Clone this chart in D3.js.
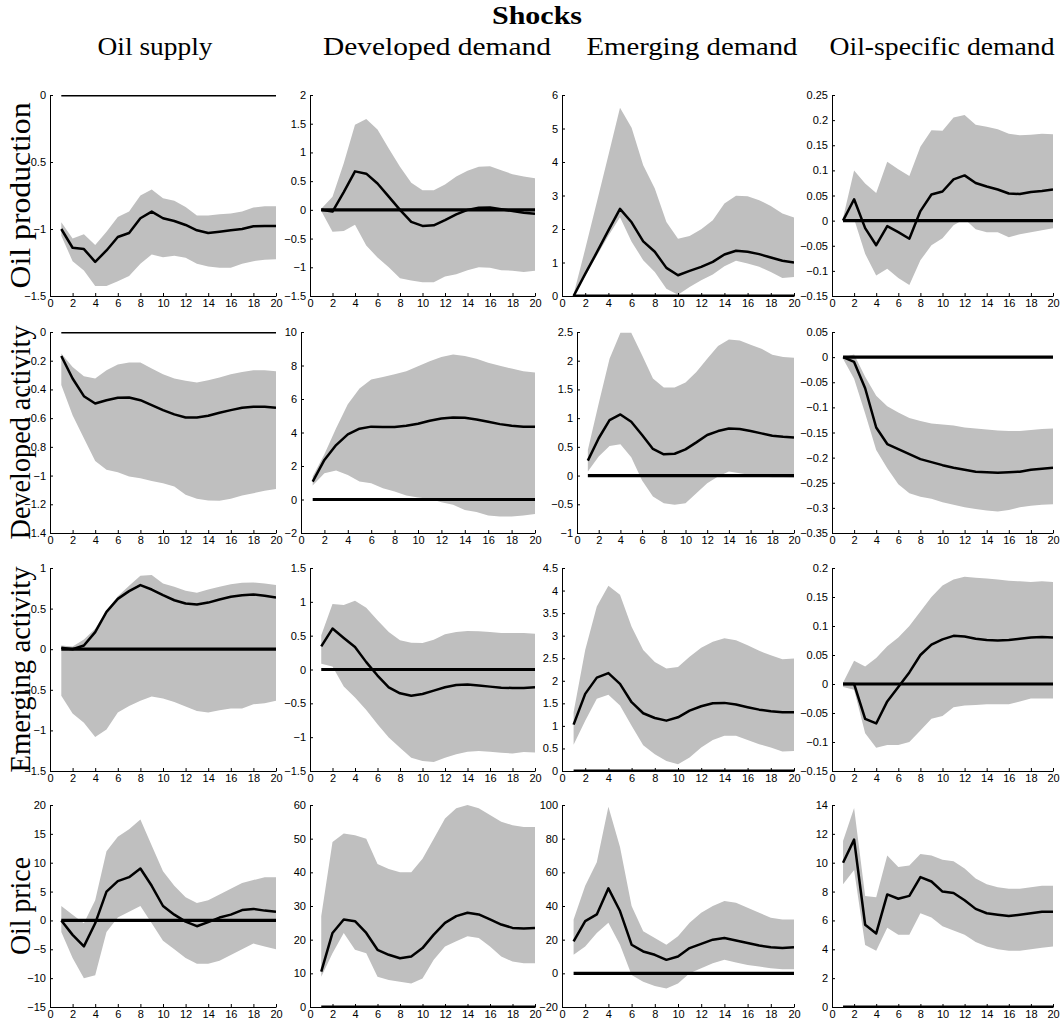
<!DOCTYPE html>
<html>
<head>
<meta charset="utf-8">
<script src="https://cdn.jsdelivr.net/npm/d3@7"></script>
<style>
  body { margin: 0; background: #fff; }
</style>
</head>
<body>
<div id="chart"></div>
<script>
// ---- data ----
const horizon = [1,2,3,4,5,6,7,8,9,10,11,12,13,14,15,16,17,18,19,20];
const xTicks = [0,2,4,6,8,10,12,14,16,18,20];
const shocks = ["Oil supply", "Developed demand", "Emerging demand", "Oil-specific demand"];
const variables = ["Oil production", "Developed activity", "Emerging activity", "Oil price"];

// y limits, one row per variable, one entry per shock
const yLimits = [
  [[-1.5, 0], [-1.5, 2], [0, 6], [-0.15, 0.25]],
  [[-1.4, 0], [-2, 10], [-1, 2.5], [-0.35, 0.05]],
  [[-1.5, 1], [-1.5, 1.5], [0, 4.5], [-0.15, 0.2]],
  [[-15, 20], [0, 60], [-20, 100], [0, 14]]
];
const yTicks = [
  [[-1.5,-1,-0.5,0], [-1.5,-1,-0.5,0,0.5,1,1.5,2], [0,1,2,3,4,5,6], [-0.15,-0.1,-0.05,0,0.05,0.1,0.15,0.2,0.25]],
  [[-1.4,-1.2,-1,-0.8,-0.6,-0.4,-0.2,0], [-2,0,2,4,6,8,10], [-1,-0.5,0,0.5,1,1.5,2,2.5], [-0.35,-0.3,-0.25,-0.2,-0.15,-0.1,-0.05,0,0.05]],
  [[-1.5,-1,-0.5,0,0.5,1], [-1.5,-1,-0.5,0,0.5,1,1.5], [0,0.5,1,1.5,2,2.5,3,3.5,4,4.5], [-0.15,-0.1,-0.05,0,0.05,0.1,0.15,0.2]],
  [[-15,-10,-5,0,5,10,15,20], [0,10,20,30,40,50,60], [-20,0,20,40,60,80,100], [0,2,4,6,8,10,12,14]]
];

// Oil production responses (median, lower band, upper band) per shock
const prodMed = [
  [-1.0,-1.14,-1.15,-1.245,-1.16,-1.06,-1.03,-0.92,-0.87,-0.92,-0.94,-0.97,-1.01,-1.03,-1.02,-1.01,-1.0,-0.98,-0.977,-0.977],
  [0,-0.03,0.31,0.67,0.63,0.46,0.23,0.0,-0.21,-0.28,-0.27,-0.18,-0.08,0.0,0.035,0.04,0.01,-0.02,-0.05,-0.07],
  [0,0.66,1.3,1.96,2.6,2.2,1.63,1.32,0.84,0.62,0.75,0.87,1.02,1.24,1.35,1.32,1.25,1.15,1.05,1.0],
  [0,0.0425,-0.015,-0.049,-0.011,-0.023,-0.036,0.019,0.052,0.058,0.082,0.09,0.075,0.068,0.062,0.054,0.053,0.057,0.059,0.062]
];
const prodLo = [
  [-1.05,-1.24,-1.31,-1.425,-1.425,-1.39,-1.35,-1.26,-1.19,-1.21,-1.2,-1.215,-1.26,-1.28,-1.29,-1.29,-1.26,-1.24,-1.23,-1.225],
  [-0.02,-0.38,-0.37,-0.26,-0.62,-0.83,-1.0,-1.19,-1.23,-1.26,-1.26,-1.16,-1.12,-1.05,-1.0,-1.01,-1.05,-1.06,-1.08,-1.06],
  [0,0.6,1.2,1.8,2.35,1.62,1.07,0.72,0.22,0.04,0.27,0.47,0.64,0.89,1.05,0.97,0.87,0.72,0.54,0.57],
  [-0.003,0.003,-0.066,-0.109,-0.096,-0.114,-0.128,-0.079,-0.049,-0.035,-0.009,0.003,-0.017,-0.023,-0.023,-0.033,-0.027,-0.023,-0.019,-0.015]
];
const prodHi = [
  [-0.95,-1.07,-1.04,-1.12,-1.02,-0.91,-0.87,-0.75,-0.705,-0.77,-0.79,-0.835,-0.9,-0.9,-0.89,-0.885,-0.87,-0.84,-0.83,-0.83],
  [0.02,0.23,0.81,1.48,1.58,1.4,1.07,0.75,0.47,0.34,0.34,0.44,0.58,0.68,0.75,0.76,0.69,0.62,0.58,0.55],
  [0.05,1.4,2.8,4.2,5.62,5.02,3.9,3.21,2.21,1.71,1.79,1.99,2.26,2.76,2.99,2.98,2.86,2.69,2.46,2.34],
  [0.005,0.1,0.074,0.055,0.117,0.102,0.089,0.147,0.18,0.179,0.205,0.21,0.191,0.187,0.182,0.173,0.17,0.171,0.173,0.172]
];

// Developed activity
const devMed = [
  [-0.167,-0.324,-0.447,-0.498,-0.475,-0.458,-0.456,-0.475,-0.509,-0.544,-0.574,-0.595,-0.595,-0.583,-0.562,-0.544,-0.528,-0.521,-0.521,-0.528],
  [1.07,2.36,3.25,3.89,4.23,4.35,4.33,4.33,4.4,4.52,4.7,4.84,4.9,4.88,4.78,4.64,4.5,4.4,4.35,4.35],
  [0.26,0.65,0.966,1.064,0.937,0.706,0.463,0.37,0.38,0.457,0.578,0.706,0.775,0.82,0.81,0.775,0.735,0.694,0.677,0.665],
  [0,-0.0095,-0.062,-0.14,-0.173,-0.183,-0.193,-0.203,-0.209,-0.215,-0.22,-0.224,-0.228,-0.229,-0.23,-0.229,-0.228,-0.224,-0.222,-0.22]
];
const devLo = [
  [-0.37,-0.579,-0.74,-0.898,-0.96,-0.977,-1.007,-1.018,-1.037,-1.053,-1.076,-1.134,-1.162,-1.174,-1.176,-1.162,-1.139,-1.123,-1.106,-1.093],
  [0.83,1.57,1.73,1.47,1.07,0.97,0.67,0.48,0.24,0.12,0.04,-0.16,-0.32,-0.62,-0.75,-0.95,-1.01,-1.01,-0.95,-0.87],
  [0.07,0.33,0.515,0.544,0.318,-0.087,-0.364,-0.48,-0.509,-0.48,-0.307,-0.133,-0.017,0.069,0.04,0.012,-0.017,-0.029,-0.029,-0.035],
  [-0.003,-0.043,-0.112,-0.185,-0.221,-0.253,-0.271,-0.278,-0.282,-0.289,-0.294,-0.299,-0.302,-0.305,-0.307,-0.304,-0.299,-0.296,-0.294,-0.293]
];
const devHi = [
  [-0.15,-0.243,-0.308,-0.324,-0.266,-0.227,-0.213,-0.213,-0.255,-0.294,-0.324,-0.34,-0.352,-0.336,-0.317,-0.294,-0.278,-0.266,-0.266,-0.273],
  [1.37,2.7,4.25,5.69,6.63,7.16,7.32,7.48,7.66,7.96,8.25,8.51,8.65,8.57,8.41,8.17,7.98,7.82,7.66,7.58],
  [0.445,1.255,2.036,2.487,2.487,2.094,1.689,1.533,1.533,1.62,1.805,2.036,2.256,2.371,2.354,2.279,2.209,2.105,2.065,2.053],
  [0,0.005,-0.039,-0.077,-0.098,-0.11,-0.121,-0.127,-0.132,-0.134,-0.136,-0.14,-0.142,-0.144,-0.146,-0.147,-0.147,-0.145,-0.143,-0.142]
];

// Emerging activity
const emMed = [
  [0.017,0.0,0.045,0.21,0.46,0.62,0.715,0.79,0.735,0.665,0.603,0.562,0.55,0.574,0.612,0.645,0.665,0.674,0.657,0.636],
  [0.342,0.605,0.466,0.332,0.109,-0.089,-0.263,-0.352,-0.387,-0.362,-0.312,-0.263,-0.228,-0.223,-0.238,-0.253,-0.268,-0.273,-0.273,-0.263],
  [1.027,1.71,2.07,2.17,1.93,1.525,1.28,1.175,1.116,1.19,1.34,1.436,1.503,1.51,1.473,1.414,1.36,1.324,1.302,1.302],
  [0,0,-0.06,-0.068,-0.03,-0.005,0.02,0.05,0.068,0.077,0.083,0.082,0.078,0.076,0.075,0.076,0.078,0.08,0.081,0.08]
];
const emLo = [
  [-0.574,-0.793,-0.905,-1.08,-0.988,-0.78,-0.698,-0.636,-0.583,-0.607,-0.649,-0.707,-0.76,-0.78,-0.752,-0.731,-0.731,-0.678,-0.665,-0.636],
  [0.084,0.045,-0.253,-0.412,-0.6,-0.808,-1.006,-1.155,-1.304,-1.353,-1.368,-1.304,-1.254,-1.215,-1.205,-1.215,-1.23,-1.24,-1.22,-1.225],
  [0.58,1.116,1.6,1.689,1.451,1.004,0.573,0.372,0.223,0.149,0.298,0.521,0.685,0.78,0.78,0.685,0.595,0.521,0.43,0.446],
  [-0.005,-0.01,-0.085,-0.11,-0.105,-0.105,-0.1,-0.08,-0.06,-0.055,-0.04,-0.037,-0.036,-0.035,-0.035,-0.035,-0.03,-0.025,-0.025,-0.025]
];
const emHi = [
  [0.045,0.033,0.12,0.252,0.471,0.653,0.78,0.905,0.913,0.81,0.77,0.72,0.694,0.736,0.77,0.8,0.818,0.822,0.81,0.79],
  [0.506,0.967,0.952,1.016,0.912,0.729,0.555,0.431,0.397,0.392,0.441,0.521,0.555,0.57,0.565,0.555,0.54,0.54,0.54,0.53],
  [1.3,2.68,3.646,4.107,3.906,3.2,2.68,2.418,2.27,2.307,2.53,2.73,2.865,2.94,2.9,2.79,2.664,2.567,2.478,2.493],
  [0.002,0.04,0.03,0.045,0.065,0.08,0.1,0.125,0.15,0.17,0.18,0.185,0.183,0.182,0.18,0.178,0.177,0.176,0.177,0.176]
];

// Oil price
const priceMed = [
  [0,-2.5,-4.5,-0.5,5,6.8,7.5,9,6,2.5,1,-0.2,-1,-0.3,0.5,1,1.8,2,1.7,1.5],
  [10.5,22,26,25.5,22,17,15.5,14.5,15,17.5,21.5,25,27,28,27.5,26,24.5,23.5,23.3,23.5],
  [19,31,35,50.5,37,17,13,11,8,10,15,17.5,20,21,19.5,18,16.5,15.5,15,15.5],
  [10,11.6,5.7,5.1,7.8,7.5,7.7,9,8.7,8,7.9,7.4,6.8,6.5,6.4,6.3,6.4,6.5,6.6,6.6]
];
const priceLo = [
  [-2,-6.5,-10,-9.5,-2,0.5,1.5,2.5,-0.5,-3.5,-5,-6.5,-7.5,-7.5,-7,-6,-5,-4,-4.5,-5],
  [9,16,22,17,16,9,8,7.5,7,8.5,14,18,19.5,21,20.5,18,15,13.5,13,13],
  [11,16,24,30,17,-1,-5,-7.5,-9,-6,0,3,6,8,6.5,5,4,3,2.5,2.5],
  [8.5,9.5,4.3,3.9,5.5,5,5,6.5,6.2,5.6,5.3,5,4.5,4.2,4,3.9,3.9,4,4.1,4.2]
];
const priceHi = [
  [2.5,1,-0.5,3.5,12,14.5,15.8,17.5,13,8.5,6,4,3,3.5,4.5,5.5,6.5,7,7.5,7.5],
  [27,49,51.5,51,50,42.5,41,40,40,44,50,56,59,60,59,57,55,54,53.5,53.5],
  [32,52,66,99,75,40,25,21,17,22,30,36,40,43,42,39,36,33,32,32],
  [11.5,13.8,7.7,7.6,10.5,9.7,9.8,10.6,10.5,10.2,10.1,9.6,8.9,8.5,8.3,8.2,8.2,8.3,8.4,8.4]
];

const medians = [prodMed, devMed, emMed, priceMed];
const lows = [prodLo, devLo, emLo, priceLo];
const highs = [prodHi, devHi, emHi, priceHi];

// ---- layout ----
const width = 1064, height = 1024;
const rowTop = [95, 332, 568, 805];
const rowBottom = [296, 533, 771, 1007];
const colLeft = [50, 310, 562, 832];
const colRight = [276, 535, 794, 1053];
// a couple of axes sit a little off the column grid in the original
const leftOverride = { "1-1": 301, "1-2": 577 };
const titleX = [155, 437, 692, 942];
const titleWidth = [115, 228, 211, 225];
const rowLabelWidth = [186, 214, 206, 98];

const serif = "'Liberation Serif', 'Times New Roman', serif";
const sans = "'Liberation Sans', Arial, Helvetica, sans-serif";
const bandColor = "#bfbfbf";

const svg = d3.select("#chart").append("svg")
    .attr("width", width)
    .attr("height", height)
    .style("background", "#fff");

svg.append("text")
    .attr("x", 537).attr("y", 24)
    .attr("text-anchor", "middle")
    .attr("font-family", serif)
    .attr("font-weight", "bold")
    .attr("font-size", "26px")
    .attr("textLength", 90)
    .attr("lengthAdjust", "spacingAndGlyphs")
    .text("Shocks");

svg.selectAll(".coltitle")
    .data(shocks)
    .enter().append("text")
    .attr("class", "coltitle")
    .attr("x", (d, i) => titleX[i])
    .attr("y", 55)
    .attr("text-anchor", "middle")
    .attr("font-family", serif)
    .attr("font-size", "25px")
    .attr("textLength", (d, i) => titleWidth[i])
    .attr("lengthAdjust", "spacingAndGlyphs")
    .text(d => d);

function fmt(v) {
    return String(v).replace("-", "\u2212");
}

variables.forEach(function(varName, r) {
    shocks.forEach(function(shockName, c) {
        var left = leftOverride[r + "-" + c] || colLeft[c];
        var right = colRight[c];
        var top = rowTop[r], bottom = rowBottom[r];

        var x = d3.scaleLinear().domain([0, 20]).range([left, right]);
        var y = d3.scaleLinear().domain(yLimits[r][c]).range([bottom, top]);

        var rows = horizon.map(function(h, i) {
            return { h: h, med: medians[r][c][i], lo: lows[r][c][i], hi: highs[r][c][i] };
        });

        var g = svg.append("g").attr("class", "panel");
        var clipId = "clip-" + r + "-" + c;
        g.append("clipPath").attr("id", clipId)
            .append("rect")
            .attr("x", left).attr("y", top)
            .attr("width", right - left).attr("height", bottom - top);

        var plot = g.append("g").attr("clip-path", "url(#" + clipId + ")");

        var area = d3.area()
            .x(d => x(d.h))
            .y0(d => y(d.lo))
            .y1(d => y(d.hi));

        plot.append("path")
            .datum(rows)
            .attr("d", area)
            .attr("fill", bandColor)
            .attr("stroke", "none");

        plot.append("path")
            .datum(rows)
            .attr("d", d3.line().x(d => x(d.h)).y(d => y(0)))
            .attr("fill", "none")
            .attr("stroke", "#000")
            .attr("stroke-width", 3.2);

        plot.append("path")
            .datum(rows)
            .attr("d", d3.line().x(d => x(d.h)).y(d => y(d.med)))
            .attr("fill", "none")
            .attr("stroke", "#000")
            .attr("stroke-width", 2.5)
            .attr("stroke-linejoin", "round");

        var xAxis = d3.axisBottom(x).tickValues(xTicks)
            .tickSizeInner(-3).tickSizeOuter(0).tickPadding(3)
            .tickFormat(fmt);
        var yAxis = d3.axisLeft(y).tickValues(yTicks[r][c])
            .tickSizeInner(-3).tickSizeOuter(0).tickPadding(4)
            .tickFormat(fmt);

        var gx = g.append("g")
            .attr("transform", "translate(0," + bottom + ")")
            .call(xAxis);
        var gy = g.append("g")
            .attr("transform", "translate(" + left + ",0)")
            .call(yAxis);

        [gx, gy].forEach(function(a) {
            a.attr("font-family", sans).attr("font-size", 11);
            a.select(".domain").attr("stroke", "#000").attr("stroke-width", 1);
            a.selectAll(".tick line").attr("stroke", "#000");
            a.selectAll(".tick text").attr("fill", "#000");
        });
    });

    var cy = (rowTop[r] + rowBottom[r]) / 2;
    svg.append("text")
        .attr("transform", "translate(30," + cy + ") rotate(-90)")
        .attr("text-anchor", "middle")
        .attr("font-family", serif)
        .attr("font-size", "29px")
        .attr("textLength", rowLabelWidth[r])
        .attr("lengthAdjust", "spacingAndGlyphs")
        .text(varName);
});
</script>
</body>
</html>
